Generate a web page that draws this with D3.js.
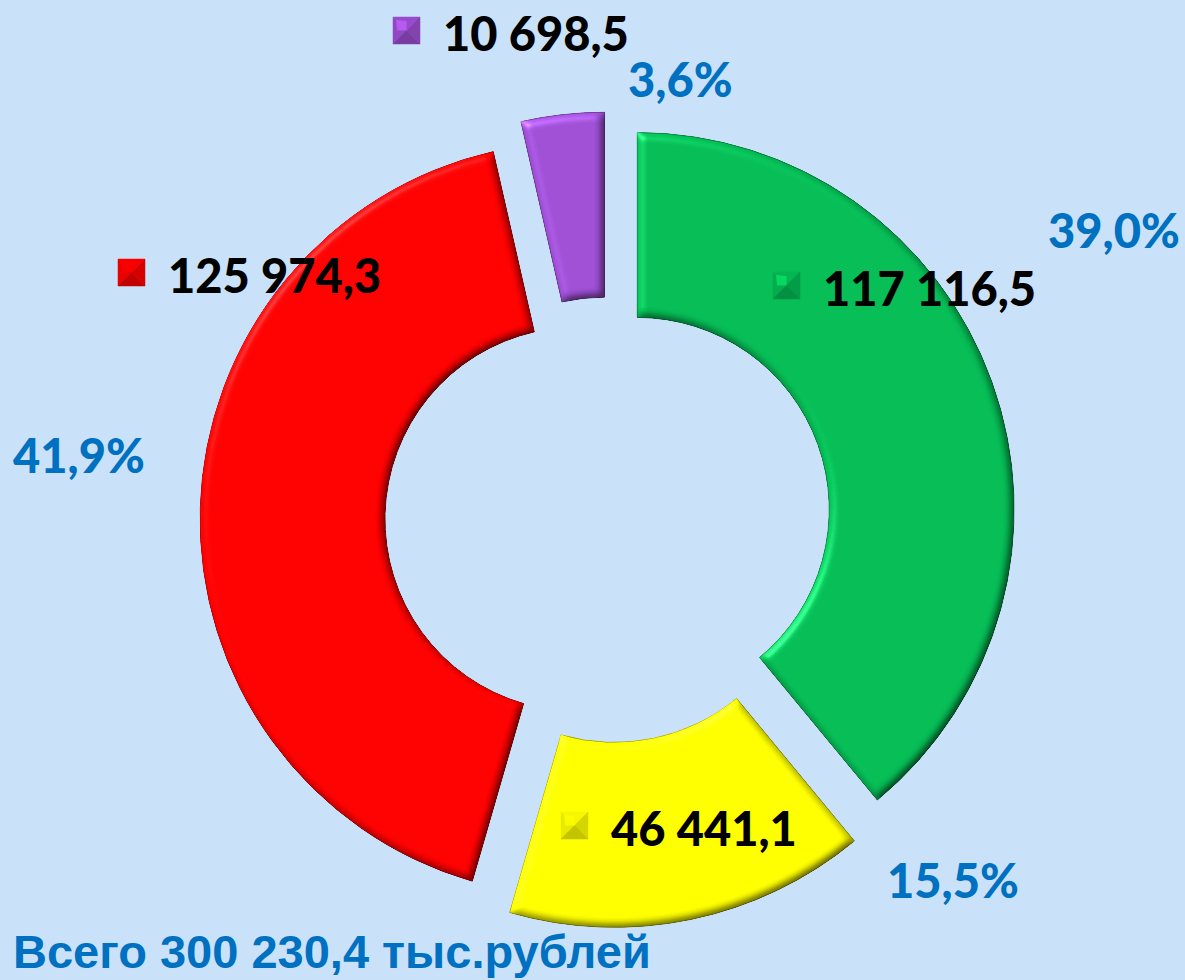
<!DOCTYPE html>
<html>
<head>
<meta charset="utf-8">
<script src="https://cdn.jsdelivr.net/npm/d3@7"></script>
<style>
  html, body { margin: 0; padding: 0; background: #c9e2fa; }
  svg { display: block; }
</style>
</head>
<body>
<div id="chart"></div>
<script>
// data, clockwise from 12 o'clock
var categories = ["green", "yellow", "red", "purple"];
var values = [117116.5, 46441.1, 125974.3, 10698.5];
var percentLabels = ["39,0%", "15,5%", "41,9%", "3,6%"];
var colors = ["#05bc55", "#ffff00", "#ff0000", "#9e4fd4"];

var width = 1185, height = 980;
var cx = 608, cy = 520;
var outerR = 377, innerR = 192, explode = 31;

// label placement relative to the centre (not data)
var valuePos = {
  green:  [165, -248],
  yellow: [-47, 292],
  red:    [-490, -261],
  purple: [-215, -503]
};
var pctPos = {
  green:  [440, -272],
  yellow: [279, 378],
  red:    [-595, -47],
  purple: [20, -423]
};

var ru = d3.formatLocale({decimal: ",", thousands: "\u00a0", grouping: [3], currency: ["", ""]});
var fmt = ru.format(",.1f");

var svg = d3.select("#chart").append("svg")
    .attr("width", width)
    .attr("height", height);

svg.append("rect")
    .attr("width", width)
    .attr("height", height)
    .attr("fill", "#c9e2fa");

// bevel look for the slices
var defs = svg.append("defs");
var f = defs.append("filter").attr("id", "bevel")
    .attr("color-interpolation-filters", "sRGB")
    .attr("x", "-10%").attr("y", "-10%").attr("width", "120%").attr("height", "120%");
f.append("feGaussianBlur").attr("in", "SourceAlpha").attr("stdDeviation", 4).attr("result", "blur");
f.append("feDiffuseLighting").attr("in", "blur").attr("surfaceScale", 4)
    .attr("diffuseConstant", 1).attr("lighting-color", "#fff").attr("result", "diff")
  .append("feDistantLight").attr("azimuth", 225).attr("elevation", 60);
f.append("feComposite").attr("in", "SourceGraphic").attr("in2", "diff")
    .attr("operator", "arithmetic").attr("k1", 1.155).attr("k2", 0).attr("k3", 0).attr("k4", 0)
    .attr("result", "shaded");
f.append("feSpecularLighting").attr("in", "blur").attr("surfaceScale", 4)
    .attr("specularConstant", 0.6).attr("specularExponent", 40).attr("lighting-color", "#fff")
    .attr("result", "spec")
  .append("feDistantLight").attr("azimuth", 225).attr("elevation", 45);
f.append("feComposite").attr("in", "spec").attr("in2", "SourceAlpha").attr("operator", "in").attr("result", "specIn");
f.append("feComposite").attr("in", "shaded").attr("in2", "specIn")
    .attr("operator", "arithmetic").attr("k2", 1).attr("k3", 0.4).attr("result", "lit");
f.append("feComposite").attr("in", "lit").attr("in2", "SourceAlpha").attr("operator", "in");

var pie = d3.pie().sort(null).value(function(d) { return d; });
var arcs = pie(values);

var arc = d3.arc().innerRadius(innerR).outerRadius(outerR);

var g = svg.append("g").attr("transform", "translate(" + cx + "," + cy + ")");

g.selectAll("path.slice")
  .data(arcs)
  .enter().append("path")
    .attr("class", "slice")
    .attr("d", arc)
    .attr("transform", function(d) {
      var a = (d.startAngle + d.endAngle) / 2;
      return "translate(" + (Math.sin(a) * explode) + "," + (-Math.cos(a) * explode) + ")";
    })
    .attr("fill", function(d, i) { return colors[i]; })
    .attr("stroke", function(d, i) { return d3.color(colors[i]).darker(1); })
    .attr("stroke-width", 1)
    .attr("filter", "url(#bevel)");

// small pyramid markers + values
var msize = 27;
function marker(sel, x, y, c) {
  var base = d3.color(c);
  var m = sel.append("g").attr("transform", "translate(" + x + "," + y + ")");
  var h = msize / 2;
  var tris = [
    ["0,0 " + msize + ",0 " + h + "," + h, base.darker(0.1)],
    ["0,0 0," + msize + " " + h + "," + h, base.darker(0.25)],
    [msize + ",0 " + msize + "," + msize + " " + h + "," + h, base.darker(0.5)],
    ["0," + msize + " " + msize + "," + msize + " " + h + "," + h, base.darker(0.75)]
  ];
  tris.forEach(function(t) {
    m.append("polygon").attr("points", t[0]).attr("fill", t[1])
        .attr("stroke", t[1]).attr("stroke-width", 0.5);
  });
  // light spot towards the top-left
  m.append("polygon")
      .attr("points", "3,3 " + h + ",4 " + h + "," + h + " 4," + h)
      .attr("fill", base.brighter(0.6))
      .attr("opacity", 0.7);
}

categories.forEach(function(k, i) {
  var p = valuePos[k];
  var x = cx + p[0], y = cy + p[1];
  marker(svg, x, y, colors[i]);
  svg.append("text")
      .attr("x", x + 50)
      .attr("y", y + 34)
      .text(fmt(values[i]))
      .style("font-family", "Lato, 'Liberation Sans', sans-serif")
      .style("font-weight", "900")
      .style("font-size", "47px")
      .style("fill", "#000");

  var q = pctPos[k];
  svg.append("text")
      .attr("x", cx + q[0])
      .attr("y", cy + q[1])
      .text(percentLabels[i])
      .style("font-family", "Lato, 'Liberation Sans', sans-serif")
      .style("font-weight", "900")
      .style("font-size", "47px")
      .style("fill", "#0070c0");
});

var total = d3.sum(values);
svg.append("text")
    .attr("x", 13)
    .attr("y", 968)
    .text("Всего " + fmt(total) + " тыс.рублей")
    .style("font-family", "'Liberation Sans', Arial, sans-serif")
    .style("font-weight", "bold")
    .style("font-size", "47px")
    .style("fill", "#0070c0");
</script>
</body>
</html>
